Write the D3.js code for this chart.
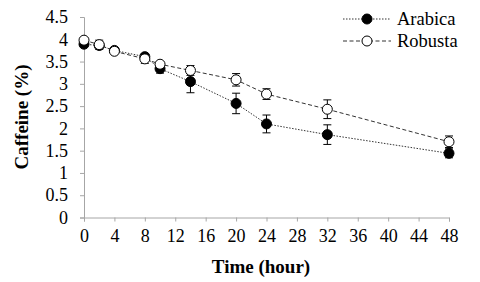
<!DOCTYPE html>
<html>
<head>
<meta charset="utf-8">
<script src="https://cdn.jsdelivr.net/npm/d3@7"></script>
<style>
  body { margin: 0; background: #fff; }
  svg text { font-family: "Liberation Serif", "Times New Roman", serif; }
</style>
</head>
<body>
<svg width="480" height="282"></svg>
<script>
const width = 480, height = 282;
const svg = d3.select("svg");

// Data
const hours = [0, 2, 4, 8, 10, 14, 20, 24, 32, 48];
const arabica = [3.89, 3.86, 3.75, 3.61, 3.34, 3.05, 2.56, 2.1, 1.86, 1.44];
const arabicaErr = [0.06, 0.08, 0.04, 0.05, 0.1, 0.25, 0.23, 0.2, 0.22, 0.1];
const robusta = [3.98, 3.88, 3.73, 3.56, 3.44, 3.3, 3.09, 2.77, 2.43, 1.7];
const robustaErr = [0.05, 0.1, 0.04, 0.1, 0.05, 0.11, 0.14, 0.12, 0.21, 0.13];
const xTicks = d3.range(0, 49, 4);
const yTicks = d3.range(0, 4.51, 0.5);

const x = d3.scaleLinear().domain([0, 48]).range([84, 449]);
const y = d3.scaleLinear().domain([0, 4.5]).range([217.5, 17]);

const axisColor = "#a6a6a6";

// Y axis
const gy = svg.append("g")
  .attr("transform", `translate(${x(0)},0)`)
  .call(d3.axisLeft(y).tickValues(yTicks).tickSize(4).tickPadding(12)
    .tickFormat(d => d3.format("")(+d.toFixed(1))));
gy.select(".domain").attr("stroke", axisColor);
gy.selectAll(".tick line").attr("stroke", axisColor);
gy.selectAll(".tick text").attr("font-size", 18).attr("fill", "#000")
  .attr("font-family", "Liberation Serif");

// X axis
const gx = svg.append("g")
  .attr("transform", `translate(0,${y(0)})`)
  .call(d3.axisBottom(x).tickValues(xTicks).tickSize(4).tickPadding(8));
gx.select(".domain").attr("stroke", axisColor);
gx.selectAll(".tick line").attr("stroke", axisColor);
gx.selectAll(".tick text").attr("font-size", 18).attr("fill", "#000")
  .attr("font-family", "Liberation Serif");

// Axis titles
svg.append("text")
  .attr("x", 261).attr("y", 273)
  .attr("text-anchor", "middle")
  .attr("font-size", 19).attr("font-weight", "bold")
  .text("Time (hour)");

svg.append("text")
  .attr("transform", "translate(28,117) rotate(-90)")
  .attr("text-anchor", "middle")
  .attr("font-size", 19).attr("font-weight", "bold")
  .text("Caffeine (%)");

const series = [
  { name: "Arabica", vals: arabica, err: arabicaErr, fill: "#000", dash: "1.5,1.5" },
  { name: "Robusta", vals: robusta, err: robustaErr, fill: "#fff", dash: "4,2.5" }
];

const line = d3.line().x(d => x(d[0])).y(d => y(d[1]));

series.forEach(s => {
  const pts = hours.map((h, i) => [h, s.vals[i], s.err[i]]);
  const g = svg.append("g");

  g.append("path")
    .attr("d", line(pts))
    .attr("fill", "none")
    .attr("stroke", "#333")
    .attr("stroke-width", 1)
    .attr("stroke-dasharray", s.dash);

  // error bars
  const eb = g.selectAll(".eb").data(pts).join("g");
  eb.append("line")
    .attr("x1", d => x(d[0])).attr("x2", d => x(d[0]))
    .attr("y1", d => y(d[1] - d[2])).attr("y2", d => y(d[1] + d[2]))
    .attr("stroke", "#000");
  eb.append("line")
    .attr("x1", d => x(d[0]) - 4).attr("x2", d => x(d[0]) + 4)
    .attr("y1", d => y(d[1] + d[2])).attr("y2", d => y(d[1] + d[2]))
    .attr("stroke", "#000");
  eb.append("line")
    .attr("x1", d => x(d[0]) - 4).attr("x2", d => x(d[0]) + 4)
    .attr("y1", d => y(d[1] - d[2])).attr("y2", d => y(d[1] - d[2]))
    .attr("stroke", "#000");

  g.selectAll("circle").data(pts).join("circle")
    .attr("cx", d => x(d[0])).attr("cy", d => y(d[1]))
    .attr("r", 5)
    .attr("fill", s.fill)
    .attr("stroke", "#000")
    .attr("stroke-width", 1);
});

// Legend
const legend = svg.append("g");
series.forEach((s, i) => {
  const ly = 19 + i * 22;
  legend.append("line")
    .attr("x1", 343).attr("x2", 391).attr("y1", ly).attr("y2", ly)
    .attr("stroke", "#333").attr("stroke-dasharray", s.dash);
  legend.append("circle")
    .attr("cx", 367).attr("cy", ly).attr("r", 5)
    .attr("fill", s.fill).attr("stroke", "#000");
  legend.append("text")
    .attr("x", 397).attr("y", ly + 6)
    .attr("font-size", 18.5)
    .text(s.name);
});
</script>
</body>
</html>
